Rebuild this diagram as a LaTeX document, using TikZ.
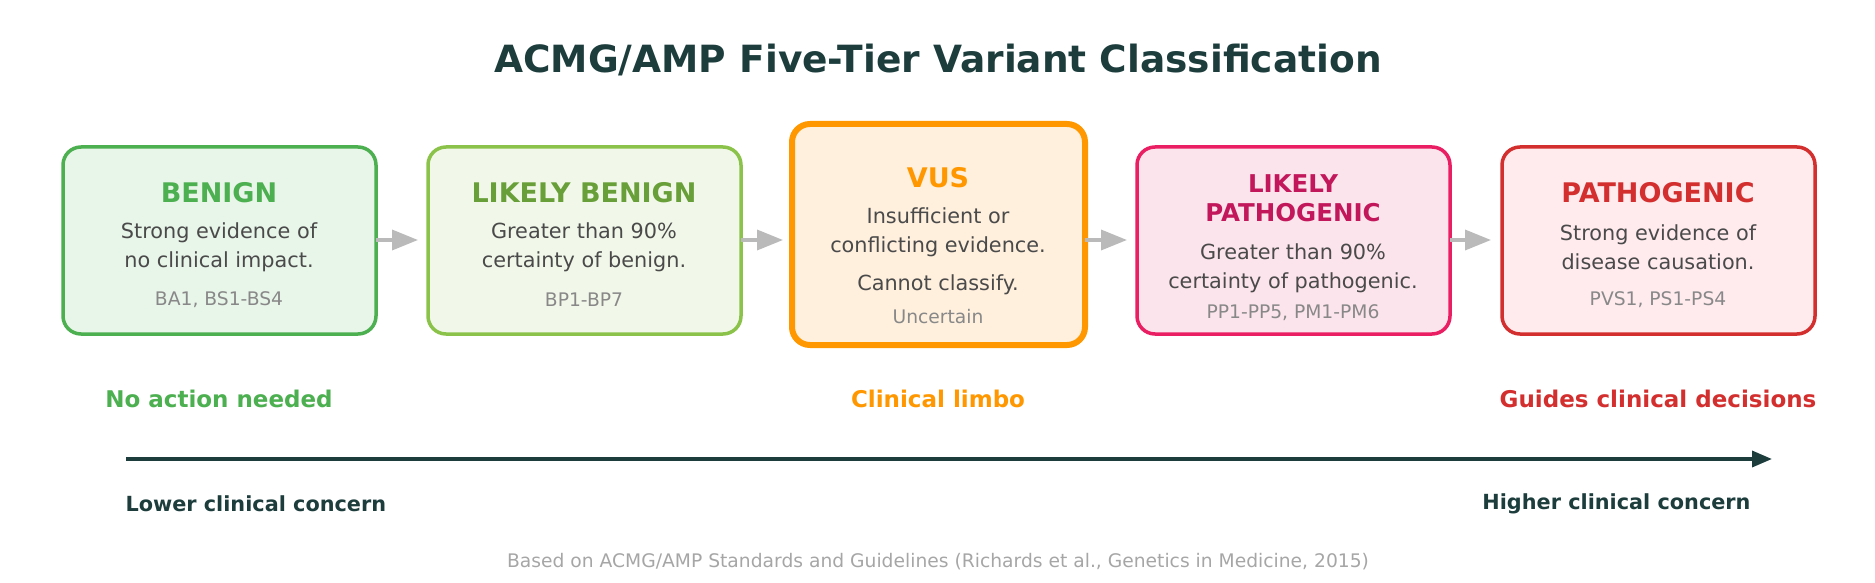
\documentclass[tikz,border=0pt]{standalone}
\usepackage{fontspec}
\setmainfont{DejaVu Sans}
\usetikzlibrary{arrows.meta}
\definecolor{dk}{HTML}{1D3D3D}
\definecolor{gB}{HTML}{4CAF50}\definecolor{gBf}{HTML}{E8F5E9}
\definecolor{lB}{HTML}{8BC34A}\definecolor{lBf}{HTML}{F1F8E9}\definecolor{lBt}{HTML}{689F38}
\definecolor{oV}{HTML}{FF9800}\definecolor{oVf}{HTML}{FFF0DE}
\definecolor{pL}{HTML}{E91E63}\definecolor{pLf}{HTML}{FCE4EC}\definecolor{pLt}{HTML}{C2185B}
\definecolor{rP}{HTML}{D32F2F}\definecolor{rPf}{HTML}{FFEBEE}
\definecolor{bodyc}{HTML}{4A4A4A}\definecolor{codec}{HTML}{888888}
\begin{document}
\begin{tikzpicture}[x=1pt,y=-1pt,
 box/.style={draw,rounded corners=18pt,line width=3.5pt},
 ttl/.style={font=\fontsize{27}{30}\selectfont\bfseries,align=center},
 bdy/.style={font=\fontsize{20.8}{29}\selectfont,text=bodyc,align=center},
 cod/.style={font=\fontsize{18.7}{20}\selectfont,text=codec},
 con/.style={draw=black!27,line width=3.5pt,-{Triangle[length=26pt,width=20pt]}},
 lab/.style={font=\fontsize{23}{25}\selectfont\bfseries}]
\useasboundingbox (0,0) rectangle (1875,583);
\node[font=\fontsize{37.5}{40}\selectfont\bfseries,text=dk] (title) at (938,60) {ACMG/AMP Five-Tier Variant Classification};
% boxes
\draw[box,draw=gB,fill=gBf] (63,147) rectangle (376,334);
\coordinate (b1w) at (376,240);
\node[ttl,text=gB] (t1) at (219,193) {BENIGN};
\node[bdy] (d1) at (219,247) {Strong evidence of\\no clinical impact.};
\node[cod] (c1) at (219,300) {BA1, BS1-BS4};
\draw[box,draw=lB,fill=lBf] (428,147) rectangle (741,334);
\coordinate (b2w) at (741,240);
\node[ttl,text=lBt] (t2) at (584,193) {LIKELY BENIGN};
\node[bdy] (d2) at (584,247) {Greater than 90\%\\certainty of benign.};
\node[cod] (c2) at (584,300) {BP1-BP7};
\draw[box,draw=oV,fill=oVf,line width=6pt] (792,124) rectangle (1085,345);
\coordinate (b3w) at (1085,240);
\node[ttl,text=oV] (t3) at (938,178) {VUS};
\node[bdy] (d3) at (938,232) {Insufficient or\\conflicting evidence.};
\node[bdy] (e3) at (938,285) {Cannot classify.};
\node[cod] (c3) at (938,317) {Uncertain};
\draw[box,draw=pL,fill=pLf] (1137,147) rectangle (1450,334);
\coordinate (b4w) at (1450,240);
\node[ttl,text=pLt,font=\fontsize{24.5}{29}\selectfont\bfseries] (t4) at (1293,198) {LIKELY\\PATHOGENIC};
\node[bdy] (d4) at (1293,268) {Greater than 90\%\\certainty of pathogenic.};
\node[cod] (c4) at (1293,313) {PP1-PP5, PM1-PM6};
\draw[box,draw=rP,fill=rPf] (1502,147) rectangle (1815,334);
\node[ttl,text=rP] (t5) at (1658,193) {PATHOGENIC};
\node[bdy] (d5) at (1658,247) {Strong evidence of\\disease causation.};
\node[cod] (c5) at (1658,300) {PVS1, PS1-PS4};
% connectors
\coordinate (a1) at (418,240);\coordinate (a2) at (783,240);\coordinate (a3) at (1127,240);\coordinate (a4) at (1491,240);
\draw[con] (b1w) -- (a1);
\draw[con] (b2w) -- (a2);
\draw[con] (b3w) -- (a3);
\draw[con] (b4w) -- (a4);
% labels
\node[lab,text=gB] (l1) at (219,399) {No action needed};
\node[lab,text=oV] (l2) at (938,399) {Clinical limbo};
\node[lab,text=rP] (l3) at (1658,399) {Guides clinical decisions};
\coordinate (x0) at (126,459);\coordinate (x1) at (1772,459);
\draw[dk,line width=3.5pt,-{Triangle[length=20pt,width=16pt]}] (x0) -- (x1);
\node[font=\fontsize{20.8}{24}\selectfont\bfseries,text=dk,anchor=west] (lo) at (122,504) {Lower clinical concern};
\node[font=\fontsize{20.8}{24}\selectfont\bfseries,text=dk,anchor=east] (hi) at (1754,504) {Higher clinical concern};
\node[font=\fontsize{18.7}{20}\selectfont,text=black!35] (ft) at (938,562) {Based on ACMG/AMP Standards and Guidelines (Richards et al., Genetics in Medicine, 2015)};
\end{tikzpicture}
\end{document}
